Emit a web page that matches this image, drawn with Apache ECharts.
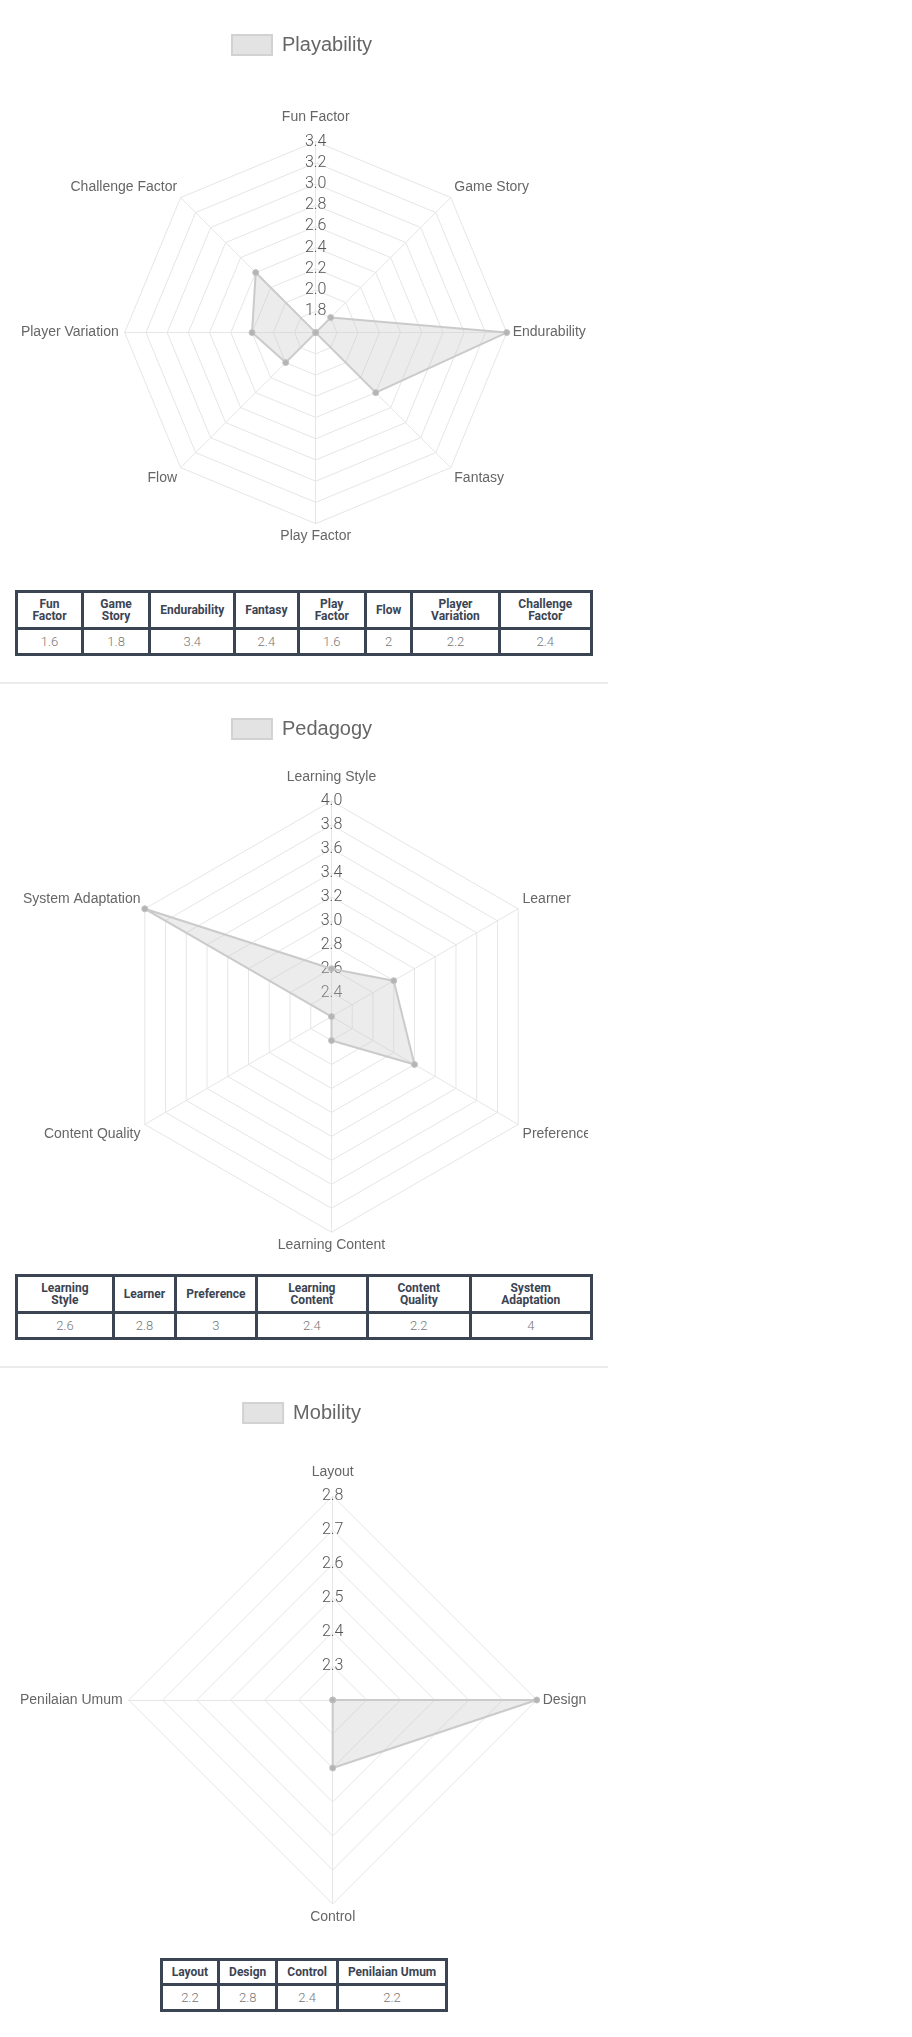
<!DOCTYPE html>
<html>
<head>
<meta charset="utf-8">
<script src="https://cdn.jsdelivr.net/npm/echarts@6/dist/echarts.min.js"></script>
<style>
  body { margin: 0; background: #ffffff; }
  .section { width: 608px; border-bottom: 2px solid #ebebeb; padding-bottom: 26px; }
  .chart { margin-left: 15px; width: 573px; height: 590px; }
  .tbl { padding: 0 15px; }
  table { margin: 0 auto; border-collapse: collapse; font-family: Roboto, "Liberation Sans", sans-serif; }
  th { border: 3px solid #3b4453; font-weight: 700; font-size: 12px; line-height: 12px; color: #3b4453;
       padding: 5px 9px; text-align: center; }
  td { border: 3px solid #3b4453; font-weight: 300; font-size: 13px; line-height: 15px; color: #777777;
       padding: 4px 9px; text-align: center; }
</style>
</head>
<body>
<div id="page"></div>
<script>
// ---------------- data ----------------
const playabilityName = 'Playability';
const playabilityLabels = ['Fun Factor', 'Game Story', 'Endurability', 'Fantasy', 'Play Factor', 'Flow', 'Player Variation', 'Challenge Factor'];
const playabilityValues = [1.6, 1.8, 3.4, 2.4, 1.6, 2, 2.2, 2.4];
const playabilityRange = [1.6, 3.4];
const playabilitySplits = 9;

const pedagogyName = 'Pedagogy';
const pedagogyLabels = ['Learning Style', 'Learner', 'Preference', 'Learning Content', 'Content Quality', 'System Adaptation'];
const pedagogyValues = [2.6, 2.8, 3, 2.4, 2.2, 4];
const pedagogyRange = [2.2, 4.0];
const pedagogySplits = 9;

const mobilityName = 'Mobility';
const mobilityLabels = ['Layout', 'Design', 'Control', 'Penilaian Umum'];
const mobilityValues = [2.2, 2.8, 2.4, 2.2];
const mobilityRange = [2.2, 2.8];
const mobilitySplits = 6;

// ---------------- layout ----------------
const sections = [
  { name: playabilityName, labels: playabilityLabels, values: playabilityValues, range: playabilityRange, splits: playabilitySplits,
    center: [300.7, 332.6], radius: 191 },
  { name: pedagogyName, labels: pedagogyLabels, values: pedagogyValues, range: pedagogyRange, splits: pedagogySplits,
    center: [316.5, 332.6], radius: 215.6 },
  { name: mobilityName, labels: mobilityLabels, values: mobilityValues, range: mobilityRange, splits: mobilitySplits,
    center: [317.7, 332], radius: 204 }
];

const gridColor = '#e6e6e6';
const page = document.getElementById('page');

sections.forEach(function (sec) {
  const wrap = document.createElement('div');
  wrap.className = 'section';
  const chartDiv = document.createElement('div');
  chartDiv.className = 'chart';
  wrap.appendChild(chartDiv);

  // table
  const tblWrap = document.createElement('div');
  tblWrap.className = 'tbl';
  const table = document.createElement('table');
  const hr = document.createElement('tr');
  const vr = document.createElement('tr');
  sec.labels.forEach(function (lab, i) {
    const th = document.createElement('th'); th.textContent = lab; hr.appendChild(th);
    const td = document.createElement('td'); td.textContent = String(sec.values[i]); vr.appendChild(td);
  });
  table.appendChild(hr); table.appendChild(vr);
  tblWrap.appendChild(table);
  wrap.appendChild(tblWrap);
  page.appendChild(wrap);

  // ECharts places indicators counter-clockwise; reorder so they run clockwise
  const n = sec.labels.length;
  const order = [0];
  for (let j = n - 1; j >= 1; j--) order.push(j);

  const indicator = order.map(function (i, j) {
    const theta = i * 360 / n;
    const ind = { name: sec.labels[i], min: sec.range[0], max: sec.range[1] };
    if (theta === 0) {
      ind.nameGap = 17;
    } else if (theta === 180 || theta === 90 || theta === 270) {
      ind.nameGap = 6;
    } else if (theta < 90 || theta > 270) {
      ind.nameGap = 5;
      ind.nameTextStyle = { verticalAlign: 'bottom' };
    } else {
      ind.nameGap = 5;
      ind.nameTextStyle = { verticalAlign: 'top' };
    }
    if (j === 0) {
      ind.axisLabel = {
        show: true, showMinLabel: false, margin: 0, align: 'center', verticalAlign: 'middle',
        fontSize: 16, color: '#555555', fontFamily: 'Roboto', fontWeight: 300,
        formatter: function (v) { return Number(v).toFixed(1); }
      };
    }
    return ind;
  });

  const chart = echarts.init(chartDiv, null, { renderer: 'canvas' });
  chart.setOption({
    animation: false,
    backgroundColor: '#ffffff',
    legend: {
      data: [sec.name],
      top: 29,
      left: 'center',
      icon: 'rect',
      itemWidth: 40,
      itemHeight: 20,
      itemStyle: { color: '#e3e3e3', borderColor: '#d2d2d2', borderWidth: 2 },
      textStyle: { fontSize: 20, color: '#666666', fontFamily: 'Liberation Sans', padding: [0, 0, 0, 5] }
    },
    radar: {
      center: sec.center,
      radius: sec.radius,
      shape: 'polygon',
      splitNumber: sec.splits,
      startAngle: 90,
      nameGap: 6,
      axisName: { color: '#666666', fontSize: 14, fontFamily: 'Liberation Sans' },
      axisLine: { show: true, lineStyle: { color: gridColor, width: 1 } },
      splitLine: { show: true, lineStyle: { color: gridColor, width: 1 } },
      splitArea: { show: false },
      axisTick: { show: false },
      axisLabel: { show: false },
      indicator: indicator
    },
    series: [{
      type: 'radar',
      name: sec.name,
      symbol: 'circle',
      symbolSize: 6,
      itemStyle: { color: '#b4b4b4', borderColor: '#c4c4c4', borderWidth: 1 },
      lineStyle: { color: '#cbcbcb', width: 2 },
      areaStyle: { color: 'rgba(200,200,200,0.5)' },
      data: [{ name: sec.name, value: order.map(function (i) { return sec.values[i]; }) }]
    }]
  });
});
</script>
</body>
</html>
